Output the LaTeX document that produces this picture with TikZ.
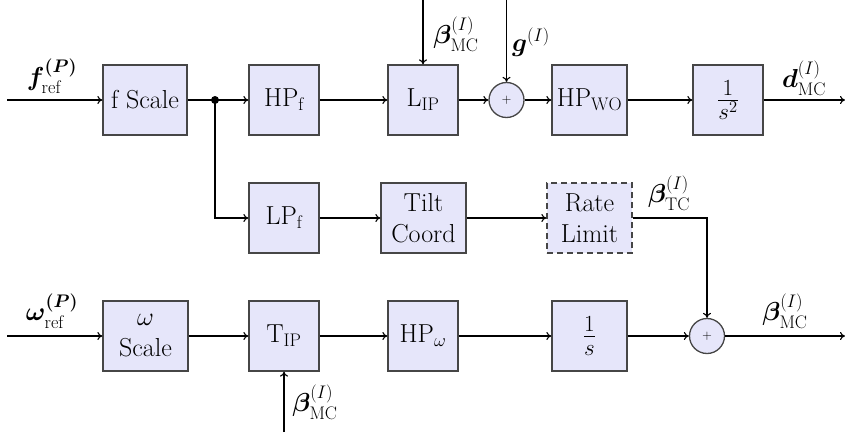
\RequirePackage{fix-cm}
\documentclass[tikz,border=0pt]{standalone}
\usepackage{amsmath,bm}
\usepackage{fontspec}
\usetikzlibrary{arrows.meta}
\definecolor{boxfill}{RGB}{230,230,250}
\definecolor{boxdraw}{RGB}{70,70,70}
\begin{document}
\begin{tikzpicture}[x=1pt,y=-1pt,
  font=\fontsize{26}{31}\selectfont,
  blk/.style={draw=boxdraw,fill=boxfill,line width=1.3pt,minimum width=70pt,minimum height=70pt,inner sep=2pt,align=center},
  fracblk/.style={blk,font=\fontsize{33}{38}\selectfont},
  sumnode/.style={circle,draw=boxdraw,fill=boxfill,line width=1.3pt,minimum size=35pt,inner sep=0pt,font=\fontsize{13}{15}\selectfont},
  conn/.style={line width=1.1pt,-{To[length=5pt,width=8pt]}},
  wire/.style={line width=1.1pt},
  lbl/.style={inner sep=0pt}]
\useasboundingbox (0,0) rectangle (845,436);
% top row
\coordinate (fin) at (7,100);
\node[blk,minimum width=84pt] (fs) at (145,100) {f Scale};
\coordinate (j) at (215,100);
\node[blk] (hpf) at (284,100) {HP$_\mathrm{f}$};
\node[blk] (lip) at (423,100) {L$_\mathrm{IP}$};
\node[sumnode] (s1) at (506.5,100) {$+$};
\node[blk,minimum width=75pt] (hpwo) at (589.5,100) {HP$_\mathrm{WO}$};
\node[fracblk] (is2) at (728,100) {$\frac{1}{s^2}$};
\coordinate (dout) at (845,100);
\coordinate (btop) at (423,0);
\coordinate (gtop) at (506.5,0);
% middle row
\node[blk] (lpf) at (284,218) {LP$_\mathrm{f}$};
\node[blk,minimum width=85pt] (tilt) at (423.5,218) {Tilt\\Coord};
\node[blk,minimum width=85pt,dash pattern=on 6pt off 4pt] (rate) at (589.5,218) {Rate\\Limit};
% bottom row
\coordinate (win) at (7,336);
\node[blk,minimum width=85pt] (ws) at (145.5,336) {$\omega$\\Scale};
\node[blk] (tip) at (284,336) {T$_\mathrm{IP}$};
\node[blk] (hpw) at (423,336) {HP$_\omega$};
\node[fracblk,minimum width=75pt] (is1) at (589.5,336) {$\frac{1}{s}$};
\node[sumnode] (s2) at (707,336) {$+$};
\coordinate (bout) at (845,336);
\coordinate (tbot) at (284,432);
% connectors
\draw[conn] (fin) -- (fs);
\draw[wire] (fs) -- (j);
\draw[conn] (j) -- (hpf);
\draw[conn] (hpf) -- (lip);
\draw[conn] (lip) -- (s1);
\draw[conn] (s1) -- (hpwo);
\draw[conn] (hpwo) -- (is2);
\draw[conn] (is2) -- (dout);
\draw[conn] (btop) -- (lip.north);
\draw[conn] (gtop) -- (s1.north);
\draw[conn] (j) |- (lpf);
\draw[conn] (lpf) -- (tilt);
\draw[conn] (tilt) -- (rate);
\draw[conn] (rate.east) -| (s2.north);
\draw[conn] (win) -- (ws);
\draw[conn] (ws) -- (tip);
\draw[conn] (tip) -- (hpw);
\draw[conn] (hpw) -- (is1);
\draw[conn] (is1) -- (s2);
\draw[conn] (s2) -- (bout);
\draw[conn] (tbot) -- (tip.south);
\fill (j) circle (4pt);
% labels
\node[lbl] (lf) at (52,76) {$\bm{f}^{\bm{(P)}}_{\mathrm{ref}}$};
\node[lbl] (lw) at (52,311) {$\bm{\omega}^{\bm{(P)}}_{\mathrm{ref}}$};
\node[lbl] (lbtop) at (456,34) {$\bm{\beta}^{(I)}_{\mathrm{MC}}$};
\node[lbl] (lg) at (531,42) {$\bm{g}^{(I)}$};
\node[lbl] (ld) at (804,78) {$\bm{d}^{(I)}_{\mathrm{MC}}$};
\node[lbl] (ltc) at (669,193) {$\bm{\beta}^{(I)}_{\mathrm{TC}}$};
\node[lbl] (lbout) at (785,311) {$\bm{\beta}^{(I)}_{\mathrm{MC}}$};
\node[lbl] (lbbot) at (315,402) {$\bm{\beta}^{(I)}_{\mathrm{MC}}$};
\end{tikzpicture}
\end{document}
